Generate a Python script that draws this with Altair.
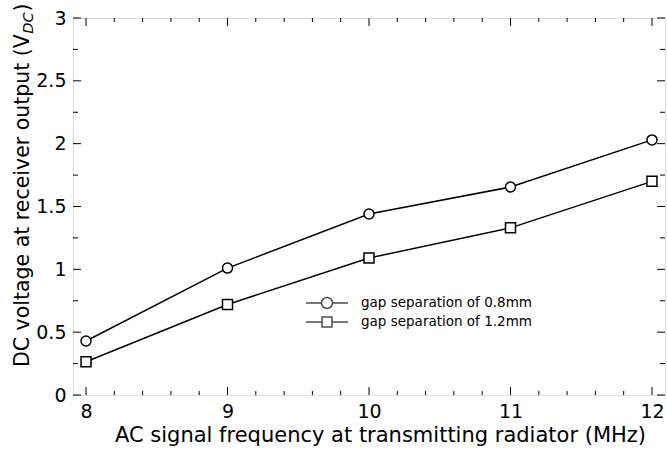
import altair as alt
import pandas as pd

# ---- data ----
freq = [8, 9, 10, 11, 12]
v_08 = [0.43, 1.01, 1.44, 1.655, 2.03]
v_12 = [0.265, 0.72, 1.09, 1.33, 1.70]
series_names = ["gap separation of 0.8mm", "gap separation of 1.2mm"]

x_major = [8, 9, 10, 11, 12]
x_minor = [8.2, 8.4, 8.6, 8.8, 9.2, 9.4, 9.6, 9.8, 10.2, 10.4, 10.6, 10.8,
           11.2, 11.4, 11.6, 11.8]
y_major = [0, 0.5, 1, 1.5, 2, 2.5, 3]
y_minor = [0.25, 0.75, 1.25, 1.75, 2.25, 2.75]

x_title = "AC signal frequency at transmitting radiator (MHz)"
y_title_main = "DC voltage at receiver output (V"
y_title_sub = "DC"
y_title_end = ")"

df = pd.DataFrame({
    "freq": freq + freq,
    "voltage": v_08 + v_12,
    "series": [series_names[0]] * len(freq) + [series_names[1]] * len(freq),
})

FONT = "DejaVu Sans"
W, H = 592, 377
xs = alt.Scale(domain=[7.908, 12.092], nice=False, zero=False)
ys = alt.Scale(domain=[0, 3], nice=False)

base = alt.Chart(df)

lines = base.mark_line(color="black", strokeWidth=1.5).encode(
    x=alt.X("freq:Q", scale=xs, axis=alt.Axis(
        orient="bottom", values=x_major, tickSize=0, labelPadding=7, domain=False,
        grid=False, format="~g", labelFont=FONT, labelFontSize=19, labelColor="black",
        title=x_title, titleFont=FONT, titleFontSize=21, titleFontWeight="normal",
        titleColor="black", titlePadding=3, titleX=307)),
    y=alt.Y("voltage:Q", scale=ys, axis=alt.Axis(
        orient="left", values=y_major, tickSize=0, labelPadding=7, domain=False,
        grid=False, format="~g", labelFont=FONT, labelFontSize=19, labelColor="black",
        title=None)),
    detail="series:N",
)

points = base.mark_point(filled=True, fill="white", stroke="black", strokeWidth=1.5,
                         size=100, opacity=1).encode(
    x=alt.X("freq:Q", scale=xs, axis=None),
    y=alt.Y("voltage:Q", scale=ys, axis=None),
    shape=alt.Shape("series:N", scale=alt.Scale(domain=series_names,
                                                range=["circle", "square"]), legend=None),
)

circ_path = ("M-1,0H-0.262M0.262,0H1M-0.262,0A0.262,0.262,0,1,1,0.262,0"
             "A0.262,0.262,0,1,1,-0.262,0Z")
sq_path = "M-1,0H-0.238M0.238,0H1M-0.238,-0.238H0.238V0.238H-0.238Z"


def legend_layer(field, name, path, ly):
    return base.transform_calculate(**{field: "datum.series"}).transform_filter(
        "false").mark_point(filled=False, stroke="black", strokeWidth=1.5,
                            size=1764).encode(
        x=alt.X("freq:Q", scale=xs, axis=None),
        y=alt.Y("voltage:Q", scale=ys, axis=None),
        shape=alt.Shape(f"{field}:N", scale=alt.Scale(domain=[name], range=[path]),
                        legend=alt.Legend(orient="none", legendX=232, legendY=ly,
                                          title=None, labelFont=FONT, labelFontSize=13.5,
                                          labelColor="black", labelOffset=12,
                                          labelLimit=400, symbolSize=1764,
                                          symbolStrokeWidth=1.5,
                                          symbolStrokeColor="black", padding=0)),
    )


leg1 = legend_layer("leg1", series_names[0], circ_path, 263)
leg2 = legend_layer("leg2", series_names[1], sq_path, 282)


def x_ticks(vals, y0, y1):
    return alt.Chart(pd.DataFrame({"xt": vals})).mark_rule(
        color="black", strokeWidth=1).encode(
        x=alt.X("xt:Q", scale=xs, axis=None), y=alt.value(y0), y2=alt.value(y1))


def y_ticks(vals, x0, x1):
    return alt.Chart(pd.DataFrame({"yt": vals})).mark_rule(
        color="black", strokeWidth=1).encode(
        y=alt.Y("yt:Q", scale=ys, axis=None), x=alt.value(x0), x2=alt.value(x1))


ticks = [
    x_ticks(x_major, H, H - 8), x_ticks(x_minor, H, H - 4),
    x_ticks(x_major, 0, 8), x_ticks(x_minor, 0, 4),
    y_ticks(y_major, 0, 8), y_ticks(y_minor, 0, 5),
    y_ticks(y_major, W, W - 8), y_ticks(y_minor, W, W - 5),
]

# y-axis title with subscript, built from text pieces
tdata = alt.Data(values=[{}])
YT_FS = 20.5
SUB_FS = 14.5
y_start = 349
w1 = 16.26 * YT_FS
w2 = 1.468 * SUB_FS
t1 = alt.Chart(tdata).mark_text(angle=270, align="left", baseline="alphabetic",
                                font=FONT, fontSize=YT_FS, color="black").encode(
    x=alt.value(-44), y=alt.value(y_start), text=alt.value(y_title_main))
t2 = alt.Chart(tdata).mark_text(angle=270, align="left", baseline="alphabetic",
                                font=FONT, fontSize=SUB_FS, fontStyle="italic",
                                color="black").encode(
    x=alt.value(-40), y=alt.value(y_start - w1), text=alt.value(y_title_sub))
t3 = alt.Chart(tdata).mark_text(angle=270, align="left", baseline="alphabetic",
                                font=FONT, fontSize=YT_FS, color="black").encode(
    x=alt.value(-44), y=alt.value(y_start - w1 - w2 - 1), text=alt.value(y_title_end))

chart = alt.layer(lines, points, leg1, leg2, *ticks, t1, t2, t3).resolve_axis(
    x="independent", y="independent").resolve_scale(
    shape="independent").properties(
    width=W, height=H, autosize=alt.AutoSizeParams(type="none"),
    padding={"left": 73, "top": 18, "right": 2, "bottom": 58},
).configure_view(stroke="black", strokeWidth=1.5).configure(background="white")

chart.save("out.html", embed_options={"renderer": "svg", "actions": False})
